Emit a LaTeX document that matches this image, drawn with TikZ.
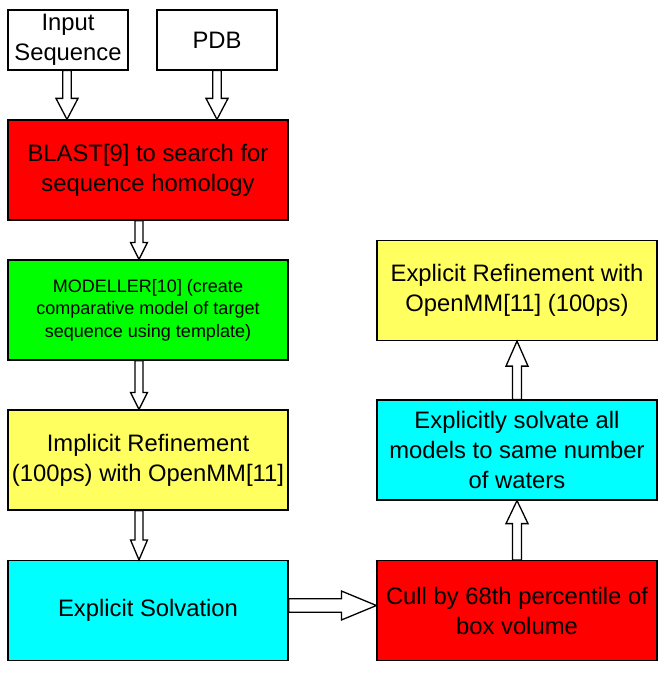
\documentclass[tikz,border=0pt]{standalone}
\usepackage{fontspec}
\setmainfont{Liberation Sans}
\usetikzlibrary{calc}
\definecolor{boxred}{HTML}{FF0000}
\definecolor{boxgreen}{HTML}{00FF00}
\definecolor{boxyellow}{HTML}{FFFF60}
\definecolor{boxcyan}{HTML}{00FFFF}
\newcommand\blockarr[5]{% start, end, shaft half width, head half width, head length
  \coordinate (bah) at ($(#2)!#5!(#1)$);
  \draw[barrow] ($(#1)!#3!-90:(#2)$) -- ($(bah)!#3!-90:(#2)$) -- ($(bah)!#4!-90:(#2)$) -- (#2)
    -- ($(bah)!#4!90:(#2)$) -- ($(bah)!#3!90:(#2)$) -- ($(#1)!#3!90:(#2)$) -- cycle;}
\begin{document}
\begin{tikzpicture}[x=1pt,y=-1pt,
  box/.style={draw=black,line width=1.2pt,minimum width=280pt,minimum height=100pt,
    align=center,inner sep=0pt,font=\fontsize{23.8}{30}\selectfont},
  srcbox/.style={box,fill=white,minimum width=120pt,minimum height=60pt},
  smalltext/.style={font=\fontsize{18}{22.5}\selectfont},
  barrow/.style={draw=black,fill=white,line width=1.3pt,line join=miter}]
\useasboundingbox (0,0) rectangle (666,674);

\node[srcbox] (inp) at (68,40) {Input\\Sequence};
\node[srcbox] (pdb) at (217,40) {PDB};
\node[box,fill=boxred] (blast) at (148,170) {BLAST[9] to search for\\sequence homology};
\node[box,fill=boxgreen,smalltext] (modeller) at (148,310) {MODELLER[10] (create\\comparative model of target\\sequence using template)};
\node[box,fill=boxyellow] (implicit) at (148,460) {Implicit Refinement\\(100ps) with OpenMM[11]};
\node[box,fill=boxcyan] (solv) at (148,610.5) {Explicit Solvation};
\node[box,fill=boxred] (cull) at (517,610.5) {Cull by 68th percentile of\\box volume};
\node[box,fill=boxcyan] (explsolv) at (517,450) {Explicitly solvate all\\models to same number\\of waters};
\node[box,fill=boxyellow] (explref) at (517,290.5) {Explicit Refinement with\\OpenMM[11] (100ps)};

% connectors
\coordinate (a1s) at ([xshift=-1pt]inp.south);
\coordinate (a1e) at (a1s |- blast.north);
\blockarr{a1s}{a1e}{4.2pt}{11pt}{21pt}
\coordinate (a2e) at (pdb.south |- blast.north);
\blockarr{pdb.south}{a2e}{4.2pt}{11pt}{21pt}
\coordinate (a3s) at ([xshift=-9pt]blast.south);
\coordinate (a3e) at ([xshift=-9pt]modeller.north);
\blockarr{a3s}{a3e}{4pt}{8.5pt}{17pt}
\coordinate (a4s) at ([xshift=-9pt]modeller.south);
\coordinate (a4e) at ([xshift=-9pt]implicit.north);
\blockarr{a4s}{a4e}{4pt}{8.5pt}{17pt}
\coordinate (a5s) at ([xshift=-9pt]implicit.south);
\coordinate (a5e) at ([xshift=-9pt]solv.north);
\blockarr{a5s}{a5e}{4pt}{8.5pt}{20pt}
\coordinate (a6s) at ([yshift=5pt]solv.east);
\coordinate (a6e) at ([yshift=5pt]cull.west);
\blockarr{a6s}{a6e}{6.7pt}{14.5pt}{35pt}
\blockarr{cull.north}{explsolv.south}{4.5pt}{11pt}{23pt}
\blockarr{explsolv.north}{explref.south}{4.5pt}{11pt}{25pt}
\end{tikzpicture}
\end{document}
